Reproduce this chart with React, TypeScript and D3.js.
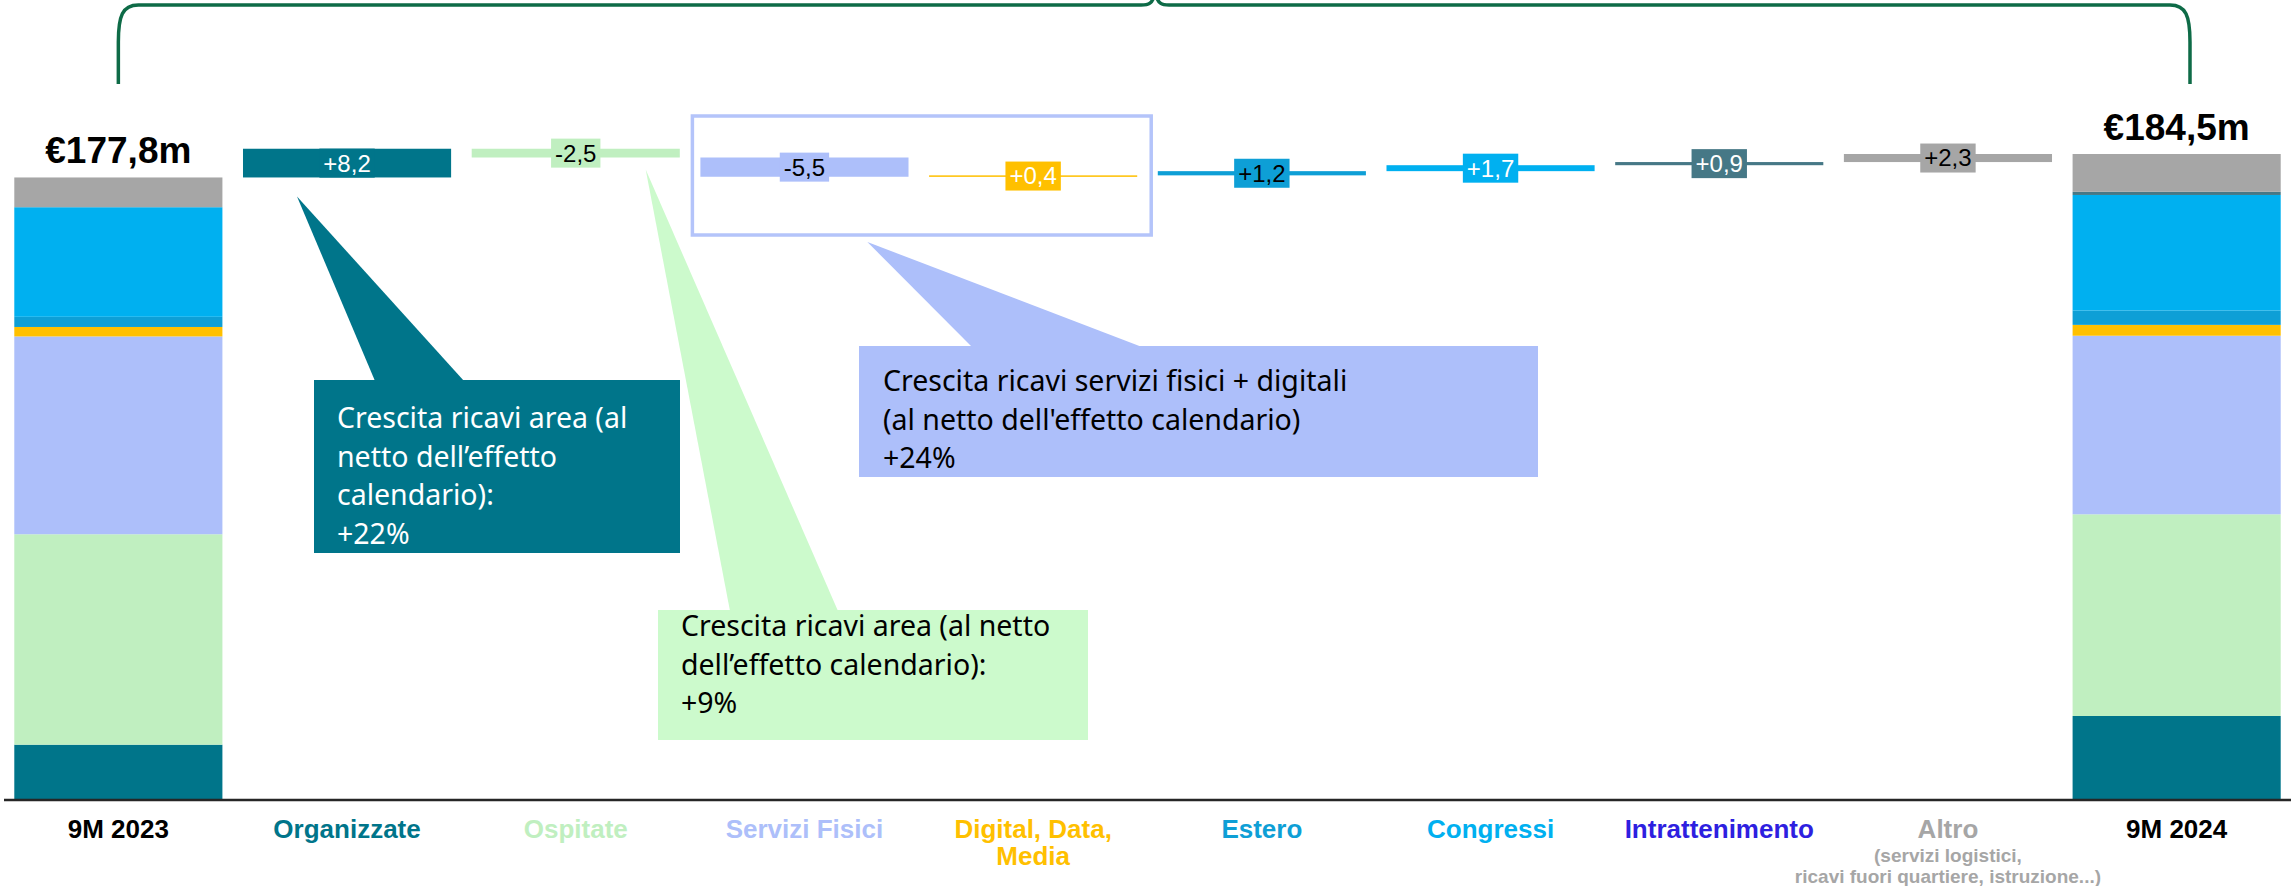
import * as d3 from 'd3';
import React, { useEffect, useRef } from 'react';

const W = 2293;
const H = 886;

const categories = [
  '9M 2023',
  'Organizzate',
  'Ospitate',
  'Servizi Fisici',
  'Digital, Data, Media',
  'Estero',
  'Congressi',
  'Intrattenimento',
  'Altro',
  '9M 2024',
];
const segments = categories.slice(1, 9);

// € m per segmento, dal basso verso l'alto
const values2023 = [15.8, 60.1, 56.5, 2.7, 2.9, 31.3, 0.0, 8.5];
const values2024 = [24.0, 57.6, 51.0, 3.1, 4.1, 33.0, 0.9, 10.8];
const deltas = [8.2, -2.5, -5.5, 0.4, 1.2, 1.7, 0.9, 2.3];
const totalLabels = ['€177,8m', '€184,5m'];

const segmentColors = ['#00758A', '#C0EFC0', '#ADBFFA', '#FFC000', '#0E9FD6', '#00B0F0', '#467886', '#A6A6A6'];
const deltaTextColors = ['#fff', '#000', '#000', '#fff', '#000', '#fff', '#fff', '#000'];
const labelColors = ['#000', '#00758A', '#C0EFC0', '#ADBFFA', '#FFC000', '#0E9FD6', '#00B0F0', '#2E1FE0', '#A6A6A6', '#000'];
const labelLines = [
  ['9M 2023'],
  ['Organizzate'],
  ['Ospitate'],
  ['Servizi Fisici'],
  ['Digital, Data,', 'Media'],
  ['Estero'],
  ['Congressi'],
  ['Intrattenimento'],
  ['Altro'],
  ['9M 2024'],
];
const altroNote = ['(servizi logistici,', 'ricavi fuori quartiere, istruzione...)'];

const calloutTexts = [
  ['Crescita ricavi area (al', 'netto dell’effetto', 'calendario):', '+22%'],
  ['Crescita ricavi area (al netto', 'dell’effetto calendario):', '+9%'],
  ['Crescita ricavi servizi fisici + digitali', "(al netto dell'effetto calendario)", '+24%'],
];

const fmt = d3.formatLocale({ decimal: ',', thousands: '.', grouping: [3], currency: ['€', ''], minus: '-' }).format('+.1f');

const BASE_FONT = "'Liberation Sans', Arial, sans-serif";
const NOTE_FONT = "'Noto Sans', sans-serif";

export default function App() {
  const ref = useRef<SVGSVGElement>(null);

  useEffect(() => {
    const svg = d3.select(ref.current);
    svg.selectAll('*').remove();

    const x = d3.scaleBand().domain(categories).range([4, 2291]).paddingInner(0.09).paddingOuter(0.045);
    const y = d3.scaleLinear().domain([0, d3.sum(values2024)]).range([800, 154]);
    const bw = x.bandwidth();

    // barre totali impilate
    const rows = [values2023, values2024].map((vals, i) => {
      const r: any = { cat: i === 0 ? categories[0] : categories[9] };
      segments.forEach((s, j) => (r[s] = vals[j]));
      return r;
    });
    const stacked = d3.stack().keys(segments)(rows);

    svg
      .append('g')
      .selectAll('g')
      .data(stacked)
      .join('g')
      .attr('fill', (d, i) => segmentColors[i])
      .selectAll('rect')
      .data((d) => d)
      .join('rect')
      .attr('x', (d: any) => x(d.data.cat))
      .attr('y', (d) => y(d[1]))
      .attr('width', bw)
      .attr('height', (d) => y(d[0]) - y(d[1]));

    // cascata
    let run = d3.sum(values2023);
    const steps = deltas.map((d, i) => {
      const s = { cat: segments[i], from: run, to: run + d, d, i };
      run += d;
      return s;
    });

    const g = svg.append('g');
    g.selectAll('rect')
      .data(steps)
      .join('rect')
      .attr('x', (d) => x(d.cat))
      .attr('y', (d) => y(Math.max(d.from, d.to)))
      .attr('width', bw)
      .attr('height', (d) => Math.max(1.5, Math.abs(y(d.from) - y(d.to))))
      .attr('fill', (d) => segmentColors[d.i]);

    // etichette delle variazioni
    steps.forEach((s) => {
      const cx = x(s.cat) + bw / 2;
      const cy = (y(s.from) + y(s.to)) / 2;
      const lg = svg.append('g');
      const box = lg.append('rect').attr('fill', segmentColors[s.i]);
      const t = lg
        .append('text')
        .attr('x', cx)
        .attr('y', cy)
        .attr('dy', '0.35em')
        .attr('text-anchor', 'middle')
        .attr('font-family', BASE_FONT)
        .attr('font-size', 24)
        .attr('fill', deltaTextColors[s.i])
        .text(fmt(s.d));
      const tw = (t.node() as SVGTextElement).getComputedTextLength();
      box.attr('x', cx - tw / 2 - 4).attr('y', cy - 14.5).attr('width', tw + 8).attr('height', 29);
    });

    // totali sopra le barre
    [values2023, values2024].forEach((vals, i) => {
      const cat = i === 0 ? categories[0] : categories[9];
      svg
        .append('text')
        .attr('x', x(cat) + bw / 2)
        .attr('y', y(d3.sum(vals)) - 14)
        .attr('text-anchor', 'middle')
        .attr('font-family', BASE_FONT)
        .attr('font-weight', 'bold')
        .attr('font-size', 37)
        .text(totalLabels[i]);
    });

    // asse
    svg
      .append('line')
      .attr('x1', 4)
      .attr('x2', 2291)
      .attr('y1', y(0))
      .attr('y2', y(0))
      .attr('stroke', '#262626')
      .attr('stroke-width', 2.5);

    // etichette categorie
    categories.forEach((c, i) => {
      const t = svg
        .append('text')
        .attr('text-anchor', 'middle')
        .attr('font-family', BASE_FONT)
        .attr('font-weight', 'bold')
        .attr('font-size', 26)
        .attr('fill', labelColors[i]);
      labelLines[i].forEach((l, k) => {
        t.append('tspan').attr('x', x(c) + bw / 2).attr('y', 838 + k * 27).text(l);
      });
      if (c === 'Altro') {
        altroNote.forEach((l, k) => {
          svg
            .append('text')
            .attr('x', x(c) + bw / 2)
            .attr('y', 862 + k * 21)
            .attr('text-anchor', 'middle')
            .attr('font-family', BASE_FONT)
            .attr('font-weight', 'bold')
            .attr('font-size', 19)
            .attr('fill', labelColors[i])
            .text(l);
        });
      }
    });

    // parentesi graffa in alto
    const bl = x(categories[0]) + bw / 2;
    const br = 2190;
    const bm = (bl + br) / 2 + 1;
    svg
      .append('path')
      .attr(
        'd',
        `M${bl},84 V42 C${bl},16 ${bl + 4},5 ${bl + 20},5 H${bm - 14} C${bm - 6},5 ${bm - 3},3 ${bm - 1},-4` +
          ` M${bm + 1},-4 C${bm + 3},3 ${bm + 6},5 ${bm + 14},5 H${br - 20} C${br - 4},5 ${br},16 ${br},42 V84`
      )
      .attr('fill', 'none')
      .attr('stroke', '#0E6B47')
      .attr('stroke-width', 3.5);

    // riquadro servizi fisici + digital
    const rx0 = x('Servizi Fisici') - 8;
    const rx1 = x('Digital, Data, Media') + bw + 14;
    svg
      .append('rect')
      .attr('x', rx0)
      .attr('y', 116)
      .attr('width', rx1 - rx0)
      .attr('height', 119)
      .attr('fill', 'none')
      .attr('stroke', '#B4C4FA')
      .attr('stroke-width', 3.5);

    // callout
    const callouts = [
      {
        fill: '#00758A',
        color: '#fff',
        box: [314, 380, 366, 173],
        base: [375, 464],
        tip: [x('Organizzate') + 54, y(steps[0].from) + 19],
        tx: 337,
        ty: 428,
      },
      {
        fill: '#CCFACC',
        color: '#000',
        box: [658, 610, 430, 130],
        base: [730, 838],
        tip: [x('Ospitate') + 174, y(steps[1].to) + 12],
        tx: 681,
        ty: 636,
      },
      {
        fill: '#ADBFFA',
        color: '#000',
        box: [859, 346, 679, 131],
        base: [972, 1142],
        tip: [x('Servizi Fisici') + 167, 242],
        tx: 883,
        ty: 391,
      },
    ];

    callouts.forEach((c, i) => {
      const [bx, by, bwid, bh] = c.box;
      svg
        .append('path')
        .attr('d', `M${c.tip[0]},${c.tip[1]} L${c.base[0]},${by + 1} L${c.base[1]},${by + 1} Z`)
        .attr('fill', c.fill);
      svg.append('rect').attr('x', bx).attr('y', by).attr('width', bwid).attr('height', bh).attr('fill', c.fill);
      const t = svg
        .append('text')
        .attr('font-family', NOTE_FONT)
        .attr('font-size', 28.5)
        .attr('fill', c.color);
      calloutTexts[i].forEach((l, k) => {
        t.append('tspan').attr('x', c.tx).attr('y', c.ty + k * 38.5).text(l);
      });
    });
  }, []);

  return (
    <svg
      ref={ref}
      width={W}
      height={H}
      style={{ position: 'absolute', left: 0, top: 0, display: 'block', background: '#fff' }}
    />
  );
}
